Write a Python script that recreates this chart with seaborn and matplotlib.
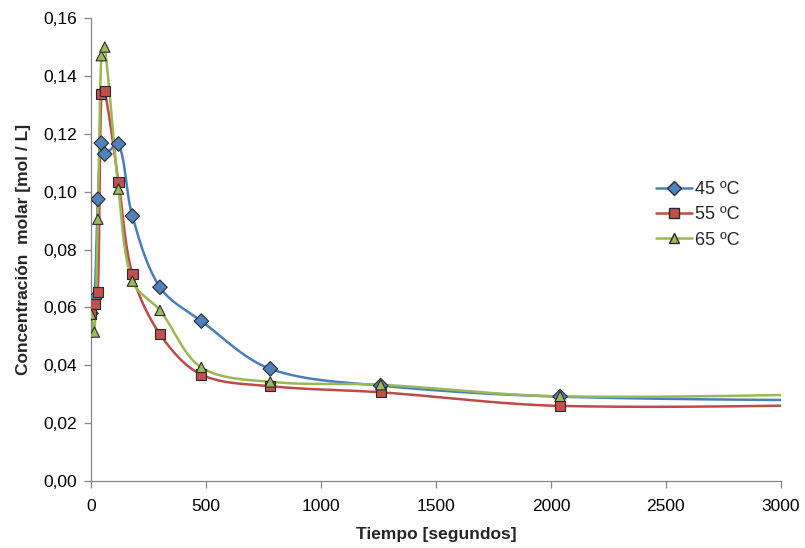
import numpy as np
import pandas as pd
import seaborn as sns
import matplotlib.pyplot as plt
import matplotlib.ticker as ticker
from matplotlib.lines import Line2D

# datos (el ultimo punto queda fuera del eje, solo da la cola de la curva)
tiempo = [0, 15, 30, 45, 60, 120, 180, 300, 480, 780, 1260, 2040, 3600]
c45 = [0.0580, 0.0630, 0.0974, 0.1168, 0.1130, 0.1165, 0.0916, 0.0670, 0.0553, 0.0388, 0.0330, 0.0292, 0.0276]
c55 = [0.0577, 0.0612, 0.0653, 0.1337, 0.1348, 0.1033, 0.0715, 0.0508, 0.0368, 0.0328, 0.0307, 0.0260, 0.0266]
c65 = [0.0577, 0.0515, 0.0905, 0.1470, 0.1500, 0.1009, 0.0691, 0.0590, 0.0393, 0.0343, 0.0333, 0.0293, 0.0305]
series = ['45 ºC', '55 ºC', '65 ºC']

colores = ['#4A7EBB', '#BE4B48', '#98B954']
relleno = ['#4F81BD', '#C0504D', '#9BBB59']
marcas = ['D', 's', '^']


def suavizar(x, y, n=40):
    # bezier por tramos tipo linea suavizada de Excel, con tangentes proporcionales
    # a la longitud de cada tramo (en pixeles) para no sobrepasar los picos
    sx, sy = 690 / 3000, 463 / 0.16
    p = np.column_stack([np.array(x) * sx, np.array(y) * sy])
    p = np.vstack([p[0], p, p[-1]])
    out = []
    t = np.linspace(0, 1, n)[:, None]
    for i in range(1, len(p) - 2):
        p0, p1, p2, p3 = p[i - 1], p[i], p[i + 1], p[i + 2]
        d01 = np.linalg.norm(p1 - p0)
        d12 = np.linalg.norm(p2 - p1)
        d23 = np.linalg.norm(p3 - p2)
        k1 = d12 / (d01 + d12) if d01 + d12 > 0 else 0
        k2 = d12 / (d12 + d23) if d12 + d23 > 0 else 0
        b1 = p1 + (p2 - p0) * k1 / 3
        b2 = p2 - (p3 - p1) * k2 / 3
        seg = ((1 - t) ** 3) * p1 + 3 * ((1 - t) ** 2) * t * b1 + 3 * (1 - t) * t ** 2 * b2 + t ** 3 * p2
        out.append(seg)
    out = np.vstack(out)
    return out[:, 0] / sx, out[:, 1] / sy


curvas = []
puntos = []
for nombre, vals in zip(series, [c45, c55, c65]):
    xs, ys = suavizar(tiempo, vals)
    curvas.append(pd.DataFrame({'t': xs, 'c': ys, 'serie': nombre}))
    puntos.append(pd.DataFrame({'t': tiempo, 'c': vals, 'serie': nombre}))
df_curvas = pd.concat(curvas, ignore_index=True)
df_puntos = pd.concat(puntos, ignore_index=True)

sns.set_style('white')
plt.rcParams['font.family'] = ['Liberation Sans', 'DejaVu Sans']

fig = plt.figure(figsize=(8.05, 5.48), dpi=100)
ax = fig.add_axes([0.113, 0.122, 0.857, 0.845])

sns.lineplot(data=df_curvas, x='t', y='c', hue='serie', units='serie', sort=False,
             estimator=None, palette=colores, linewidth=1.8, legend=False, ax=ax)
sns.scatterplot(data=df_puntos, x='t', y='c', hue='serie', style='serie',
                markers=marcas, palette=relleno, s=55, edgecolor='#2b2b2b',
                linewidth=0.8, legend=False, ax=ax, zorder=5)

ax.set_xlim(0, 3000)
ax.set_ylim(0, 0.16)
ax.xaxis.set_major_locator(ticker.MultipleLocator(500))
ax.yaxis.set_major_locator(ticker.MultipleLocator(0.02))
ax.yaxis.set_major_formatter(ticker.FuncFormatter(lambda v, _: f'{v:.2f}'.replace('.', ',')))

for s in ['top', 'right']:
    ax.spines[s].set_visible(False)
for s in ['left', 'bottom']:
    ax.spines[s].set_color('#868686')
    ax.spines[s].set_linewidth(0.9)
ax.tick_params(axis='both', direction='out', length=5, width=0.9, color='#868686',
               labelsize=12.5, labelcolor='#000000', bottom=True, left=True)
ax.tick_params(axis='x', pad=8)
ax.tick_params(axis='y', pad=5)

ax.set_xlabel('Tiempo [segundos]', fontsize=12.5, fontweight='bold', labelpad=9)
ax.set_ylabel('Concentración  molar [mol / L]', fontsize=12.5, fontweight='bold', labelpad=9)

handles = [Line2D([0], [0], color=c, marker=m, markerfacecolor=f, markeredgecolor='#2b2b2b',
                  markersize=7, linewidth=1.8)
           for c, f, m in zip(colores, relleno, marcas)]
ax.legend(handles, series, loc='center left', bbox_to_anchor=(0.808, 0.575), frameon=False,
          fontsize=13, handlelength=2.0, handletextpad=0.2, labelspacing=0.45,
          borderaxespad=0)

fig.savefig('out.png', dpi=100)
